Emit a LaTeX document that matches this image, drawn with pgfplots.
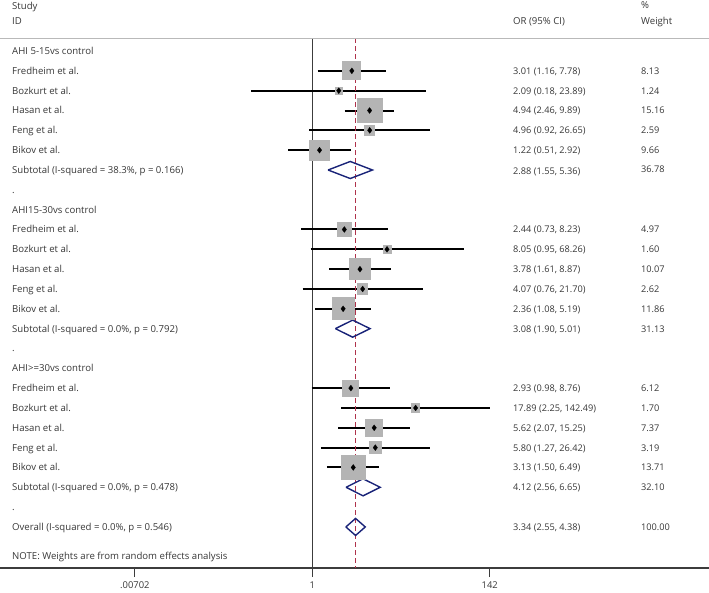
\documentclass[border=0pt]{standalone}
\usepackage{fontspec}
\setmainfont{Open Sans}
\usepackage{pgfplots}
\usepackage{pgfplotstable}
\pgfplotsset{compat=1.18}
\definecolor{boxgray}{RGB}{180,180,180}
\definecolor{navyd}{RGB}{25,35,120}
\definecolor{refred}{RGB}{175,50,75}
\definecolor{txt}{RGB}{55,55,55}
\definecolor{axc}{RGB}{60,60,60}

% row = line of the forest plot (0 = first heading), or = odds ratio, lo/hi = 95% CI, w = weight
\pgfplotstableread{
row or lo hi w
1 3.01 1.16 7.78 8.13
2 2.09 0.18 23.89 1.24
3 4.94 2.46 9.89 15.16
4 4.96 0.92 26.65 2.59
5 1.22 0.51 2.92 9.66
}\groupA
\pgfplotstableread{
row or lo hi w
9 2.44 0.73 8.23 4.97
10 8.05 0.95 68.26 1.60
11 3.78 1.61 8.87 10.07
12 4.07 0.76 21.70 2.62
13 2.36 1.08 5.19 11.86
}\groupB
\pgfplotstableread{
row or lo hi w
17 2.93 0.98 8.76 6.12
18 17.89 2.25 142.49 1.70
19 5.62 2.07 15.25 7.37
20 5.80 1.27 26.42 3.19
21 3.13 1.50 6.49 13.71
}\groupC

\newcommand\cilines[1]{%
  \pgfplotstablegetrowsof{#1}%
  \pgfmathtruncatemacro\nr{\pgfplotsretval-1}%
  \foreach \i in {0,...,\nr}{%
    \pgfplotstablegetelem{\i}{lo}\of{#1}\let\cilo\pgfplotsretval
    \pgfplotstablegetelem{\i}{hi}\of{#1}\let\cihi\pgfplotsretval
    \pgfplotstablegetelem{\i}{row}\of{#1}\let\cirow\pgfplotsretval
    \edef\tmp{\noexpand\addplot[black, line width=2pt, mark=none, forget plot]
      coordinates {(\cilo,\cirow) (\cihi,\cirow)};}\tmp
  }%
}

\newcommand\plotgroup[1]{%
  \addplot[scatter, only marks, mark=square*,
    mark options={draw=boxgray, fill=boxgray, line width=0pt},
    scatter/use mapped color={draw=boxgray, fill=boxgray},
    visualization depends on={3.2*sqrt(\thisrow{w}) \as \ms},
    scatter/@pre marker code/.append style={/tikz/mark size=\ms},
    point meta=\thisrow{w}]
    table[x=or, y=row]{#1};
  \cilines{#1}
  \addplot[only marks, mark=diamond*, mark size=3pt, black, mark options={line width=0.2pt}]
    table[x=or, y=row]{#1};
}

\begin{document}
\begin{tikzpicture}
\begin{axis}[
  at={(0,0)}, anchor=south west,
  width=709pt, height=530pt, scale only axis,
  xmode=log, xmin=1.62e-4, xmax=6.49e4,
  ymin=-0.656, ymax=26.07, y dir=reverse,
  axis x line=bottom, axis y line=none,
  x axis line style={-, line width=1.2pt, axc},
  xtick={0.00702,1,142}, xticklabels={.00702,1,142},
  minor xtick={},
  tick align=outside, major tick length=9pt,
  x tick style={line width=1.2pt, axc},
  xticklabel style={font=\fontsize{9.4}{11}\selectfont, text=txt, yshift=-1pt},
  clip=false,
]
% null line at OR = 1
\addplot[axc, line width=1.2pt, mark=none] coordinates {(1,-0.656) (1,26.07)};
\plotgroup{\groupA}
\plotgroup{\groupB}
\plotgroup{\groupC}
% overall effect line
\addplot[refred, line width=1.3pt, dash pattern=on 5pt off 3pt, mark=none] coordinates {(3.34,-0.656) (3.34,26.07)};
% pooled diamonds
\addplot[navyd, line width=1.4pt, mark=none] coordinates {(1.55,6) (2.88,5.57) (5.36,6) (2.88,6.43) (1.55,6)};
\addplot[navyd, line width=1.4pt, mark=none] coordinates {(1.90,14) (3.08,13.57) (5.01,14) (3.08,14.43) (1.90,14)};
\addplot[navyd, line width=1.4pt, mark=none] coordinates {(2.56,22) (4.12,21.57) (6.65,22) (4.12,22.43) (2.56,22)};
\addplot[navyd, line width=1.4pt, mark=none] coordinates {(2.55,24) (3.34,23.57) (4.38,24) (3.34,24.43) (2.55,24)};
\end{axis}

\draw[gray!55, line width=0.9pt] (0,530pt) -- (709pt,530pt);

\tikzset{lab/.style={anchor=base west, inner sep=0pt, yshift=-3.4pt, font=\fontsize{9.6}{11}\selectfont, text=txt},
         num/.style={lab, font=\fontsize{9.2}{11}\selectfont}}
% headers
\node[lab] at (12pt,562pt) {Study};
\node[lab] at (12pt,547pt) {ID};
\node[lab] at (513pt,547pt) {OR (95\% CI)};
\node[lab] at (641pt,563pt) {\%};
\node[lab] at (641pt,547pt) {Weight};
% left column
\node[lab] at (12pt,517pt) {AHI 5-15vs control};
\node[lab] at (12pt,497.17pt) {Fredheim et al.};
\node[lab] at (12pt,477.34pt) {Bozkurt et al.};
\node[lab] at (12pt,457.51pt) {Hasan et al.};
\node[lab] at (12pt,437.68pt) {Feng et al.};
\node[lab] at (12pt,417.85pt) {Bikov et al.};
\node[lab] at (12pt,398.02pt) {Subtotal (I-squared = 38.3\%, p = 0.166)};
\node[lab] at (12pt,378.19pt) {.};
\node[lab] at (12pt,358.36pt) {AHI15-30vs control};
\node[lab] at (12pt,338.53pt) {Fredheim et al.};
\node[lab] at (12pt,318.70pt) {Bozkurt et al.};
\node[lab] at (12pt,298.87pt) {Hasan et al.};
\node[lab] at (12pt,279.04pt) {Feng et al.};
\node[lab] at (12pt,259.21pt) {Bikov et al.};
\node[lab] at (12pt,239.38pt) {Subtotal (I-squared = 0.0\%, p = 0.792)};
\node[lab] at (12pt,219.55pt) {.};
\node[lab] at (12pt,199.72pt) {AHI>=30vs control};
\node[lab] at (12pt,179.89pt) {Fredheim et al.};
\node[lab] at (12pt,160.06pt) {Bozkurt et al.};
\node[lab] at (12pt,140.23pt) {Hasan et al.};
\node[lab] at (12pt,120.40pt) {Feng et al.};
\node[lab] at (12pt,100.57pt) {Bikov et al.};
\node[lab] at (12pt,80.74pt) {Subtotal (I-squared = 0.0\%, p = 0.478)};
\node[lab] at (12pt,60.91pt) {.};
\node[lab] at (12pt,41.08pt) {Overall (I-squared = 0.0\%, p = 0.546)};
\node[lab] at (12pt,12pt) {NOTE: Weights are from random effects analysis};
% OR column
\node[num] at (513pt,497.17pt) {3.01 (1.16, 7.78)};
\node[num] at (513pt,477.34pt) {2.09 (0.18, 23.89)};
\node[num] at (513pt,457.51pt) {4.94 (2.46, 9.89)};
\node[num] at (513pt,437.68pt) {4.96 (0.92, 26.65)};
\node[num] at (513pt,417.85pt) {1.22 (0.51, 2.92)};
\node[num] at (513pt,396.5pt) {2.88 (1.55, 5.36)};
\node[num] at (513pt,338.53pt) {2.44 (0.73, 8.23)};
\node[num] at (513pt,318.70pt) {8.05 (0.95, 68.26)};
\node[num] at (513pt,298.87pt) {3.78 (1.61, 8.87)};
\node[num] at (513pt,279.04pt) {4.07 (0.76, 21.70)};
\node[num] at (513pt,259.21pt) {2.36 (1.08, 5.19)};
\node[num] at (513pt,239.38pt) {3.08 (1.90, 5.01)};
\node[num] at (513pt,179.89pt) {2.93 (0.98, 8.76)};
\node[num] at (513pt,160.06pt) {17.89 (2.25, 142.49)};
\node[num] at (513pt,140.23pt) {5.62 (2.07, 15.25)};
\node[num] at (513pt,120.40pt) {5.80 (1.27, 26.42)};
\node[num] at (513pt,100.57pt) {3.13 (1.50, 6.49)};
\node[num] at (513pt,80.74pt) {4.12 (2.56, 6.65)};
\node[num] at (513pt,41.08pt) {3.34 (2.55, 4.38)};
% weight column
\node[num] at (641pt,497.17pt) {8.13};
\node[num] at (641pt,477.34pt) {1.24};
\node[num] at (641pt,457.51pt) {15.16};
\node[num] at (641pt,437.68pt) {2.59};
\node[num] at (641pt,417.85pt) {9.66};
\node[num] at (641pt,399pt) {36.78};
\node[num] at (641pt,338.53pt) {4.97};
\node[num] at (641pt,318.70pt) {1.60};
\node[num] at (641pt,298.87pt) {10.07};
\node[num] at (641pt,279.04pt) {2.62};
\node[num] at (641pt,259.21pt) {11.86};
\node[num] at (641pt,239.38pt) {31.13};
\node[num] at (641pt,179.89pt) {6.12};
\node[num] at (641pt,160.06pt) {1.70};
\node[num] at (641pt,140.23pt) {7.37};
\node[num] at (641pt,120.40pt) {3.19};
\node[num] at (641pt,100.57pt) {13.71};
\node[num] at (641pt,80.74pt) {32.10};
\node[num] at (641pt,41.08pt) {100.00};

\pgfresetboundingbox
\path[use as bounding box] (0,-24pt) rectangle (709pt,568pt);
\end{tikzpicture}
\end{document}
